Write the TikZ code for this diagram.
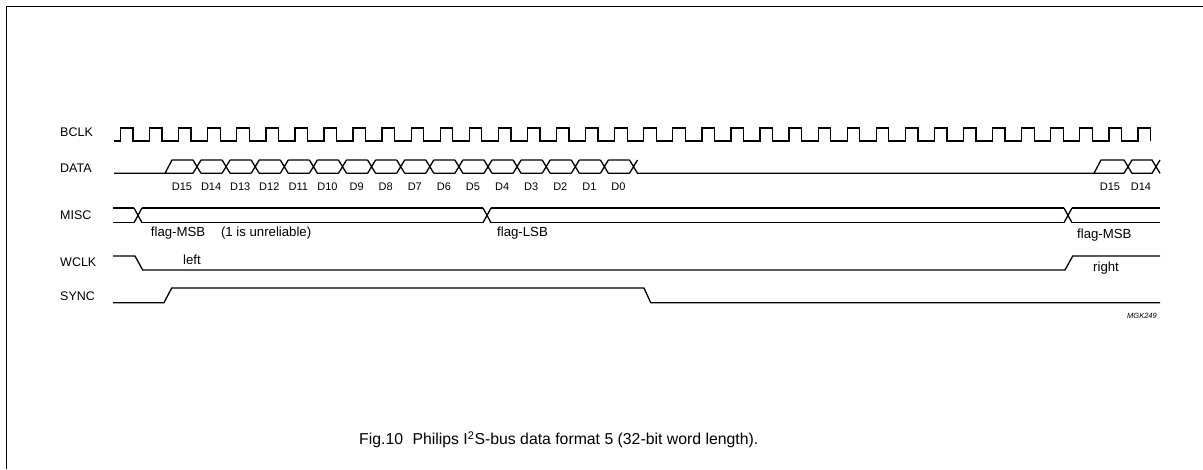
\documentclass[tikz,border=0pt]{standalone}
\usepackage{fontspec}
\setmainfont{Liberation Sans}

\begin{document}
\begin{tikzpicture}[x=1pt,y=-1pt,sig/.style={line width=1.3pt},
  signame/.style={anchor=west,inner sep=0pt,font=\fontsize{12.5}{14}\selectfont},
  bit/.style={inner sep=0pt,font=\fontsize{11}{13}\selectfont},
  note/.style={anchor=west,inner sep=0pt,font=\fontsize{13.2}{15}\selectfont}]
\useasboundingbox (0,0) rectangle (1203,469);
\draw[line width=1.6pt] (6.5,469) -- (6.5,6.5) -- (1203,6.5);
% signal names
\node[signame] (bclk) at (60,132) {BCLK}; \node[signame] (data) at (60,168) {DATA};
\node[signame] (misc) at (60,215) {MISC}; \node[signame] (wclk) at (60,262) {WCLK};
\node[signame] (sync) at (60,296) {SYNC};
% BCLK
\draw[sig] (114,141) foreach \k in {0,...,35}{ -- ({120.5+29.07*\k},141) -- ++(0,-13) -- ++(12.5,0) -- ++(0,13) };
% DATA, first word
\draw[sig] (114,173.3) -- (193,173.3) (165,173.3) -- (172,160) -- (193,160);
\foreach \k [evaluate=\k as \c using 197+29.1*\k, evaluate=\k as \n using int(15-\k)] in {0,...,14}{
  \draw[sig] (\c-4,160) -- (\c+4,173.3) (\c-4,173.3) -- (\c+4,160)
    (\c+4,160) -- (\c+25.1,160) (\c+4,173.3) -- (\c+25.1,173.3);
  \node[bit] (b\n) at (\c-15,187) {D\n};
}
\node[bit] (b0) at (618.5,187) {D0};
\draw[sig] (629.5,160) -- (637.5,173.3) -- (1094,173.3) -- (1124,173.3) (629.5,173.3) -- (637.5,160);
% DATA, next word
\draw[sig] (1094,173.3) -- (1101,160) -- (1124,160)
  (1124,160) -- (1132,173.3) -- (1152,173.3) -- (1160,160) (1124,173.3) -- (1132,160) -- (1152,160) -- (1160,173.3);
\node[bit] (nb15) at (1110,187) {D15}; \node[bit] (nb14) at (1141,187) {D14};
% MISC
\foreach \c in {138,487,1068}
  \draw[sig] (\c-4,208) -- (\c+4,222.7) (\c-4,222.7) -- (\c+4,208);
\draw[sig] (113,208) -- (134,208) (113,222.7) -- (134,222.7)
  (142,208) -- (483,208) (142,222.7) -- (483,222.7)
  (491,208) -- (1064,208) (491,222.7) -- (1064,222.7)
  (1072,208) -- (1160,208) (1072,222.7) -- (1160,222.7);
\node[note] (msb) at (150.7,233) {flag-MSB\hspace{1.2em}(1 is unreliable)};
\node[note] (lsb) at (497,233) {flag-LSB};
\node[note] (msb2) at (1077,235) {flag-MSB};
% WCLK
\draw[sig] (113,256) -- (135,256) -- (142.7,270) -- (1065,270) -- (1072.7,256) -- (1160,256);
\node[note] (left) at (183,260) {left}; \node[note] (right) at (1093,268) {right};
% SYNC
\draw[sig] (113,302.7) -- (164,302.7) -- (171.7,288) -- (644,288) -- (650.7,302.7) -- (1160,302.7);
\node[anchor=east,inner sep=0pt,font=\fontsize{7.5}{9}\selectfont\itshape] (code) at (1157,316) {MGK249};
\node[note,font=\fontsize{15.8}{18}\selectfont] (cap) at (359,440) {Fig.10\hspace{0.6em}Philips I\textsuperscript{2}S-bus data format 5 (32-bit word length).};
\end{tikzpicture}
\end{document}
